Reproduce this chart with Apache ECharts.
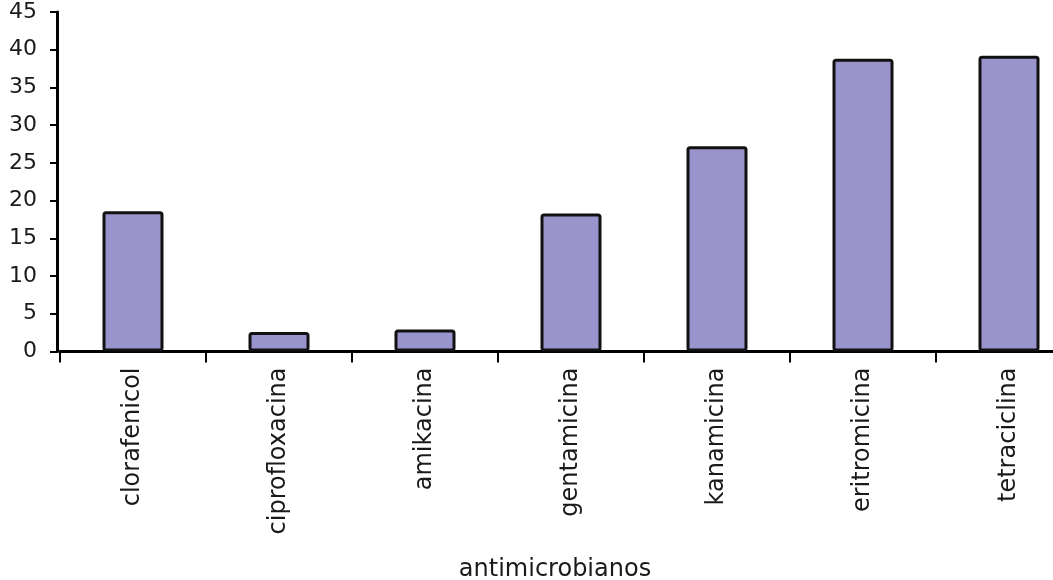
<!DOCTYPE html>
<html>
<head>
<meta charset="utf-8">
<script src="https://cdn.jsdelivr.net/npm/echarts@6/dist/echarts.min.js"></script>
<style>
  html, body { margin: 0; padding: 0; background: #fff; }
  #chart { width: 1053px; height: 580px; }
</style>
</head>
<body>
<div id="chart"></div>
<script>
// Antimicrobial agents and their values
const categories = ['clorafenicol', 'ciprofloxacina', 'amikacina', 'gentamicina', 'kanamicina', 'eritromicina', 'tetraciclina'];
const values = [18.6, 2.6, 2.9, 18.3, 27.2, 38.8, 39.2];
const axisTitle = 'antimicrobianos';
const yMin = 0, yMax = 45, yStep = 5;

const FONT = 'DejaVu Sans';
const chart = echarts.init(document.getElementById('chart'));

chart.setOption({
  animation: false,
  backgroundColor: '#ffffff',
  grid: {
    left: 60,
    right: -29,
    top: 12,
    bottom: 228.5,
    containLabel: false,
    outerBoundsMode: 'none'
  },
  xAxis: {
    type: 'category',
    data: categories,
    name: axisTitle,
    nameLocation: 'middle',
    nameGap: 206,
    nameTextStyle: {
      fontFamily: FONT,
      fontSize: 24,
      color: '#1a1a1a',
      padding: [0, 32, 0, 0]
    },
    axisLine: { lineStyle: { color: '#000', width: 3 } },
    axisTick: {
      show: true,
      alignWithLabel: false,
      length: 11,
      lineStyle: { color: '#000', width: 2 }
    },
    axisLabel: {
      rotate: 90,
      margin: 16,
      fontFamily: FONT,
      fontSize: 24,
      color: '#1a1a1a',
      interval: 0
    },
    splitLine: { show: false }
  },
  yAxis: {
    type: 'value',
    min: yMin,
    max: yMax,
    interval: yStep,
    offset: 3,
    axisLine: { show: true, lineStyle: { color: '#000', width: 3 } },
    axisTick: { show: true, length: 7, lineStyle: { color: '#000', width: 2 } },
    axisLabel: {
      margin: 20,
      fontFamily: FONT,
      fontSize: 22,
      color: '#1a1a1a'
    },
    splitLine: { show: false }
  },
  series: [{
    type: 'bar',
    data: values,
    barWidth: 61,
    itemStyle: {
      color: '#9a94cc',
      borderColor: '#111',
      borderWidth: 3,
      borderRadius: 2
    }
  }]
});
</script>
</body>
</html>
